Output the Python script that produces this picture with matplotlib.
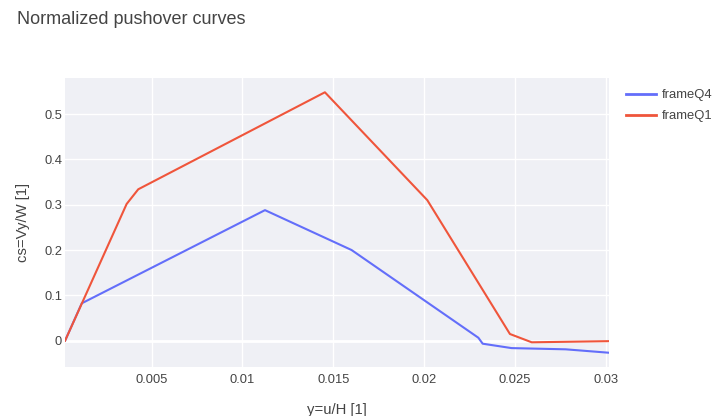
import matplotlib
matplotlib.use("Agg")
import matplotlib.pyplot as plt

# Normalized drift (y = u/H) and base-shear coefficient (cs = Vy/W)
q4_drift = [0.00023, 0.00115, 0.01124, 0.01601, 0.02299, 0.02323, 0.02482, 0.0278, 0.03017]
q4_cs = [0.0, 0.0825, 0.288, 0.200, 0.0066, -0.0066, -0.0163, -0.019, -0.0265]

q1_drift = [0.00023, 0.00362, 0.00426, 0.01454, 0.02018, 0.02473, 0.02593, 0.03017]
q1_cs = [0.0, 0.3016, 0.334, 0.548, 0.310, 0.0148, -0.0035, -0.0010]

series_names = ["frameQ4", "frameQ1"]
x_ticks = [0.005, 0.01, 0.015, 0.02, 0.025, 0.03]
x_tick_labels = ["0.005", "0.01", "0.015", "0.02", "0.025", "0.03"]
y_ticks = [0, 0.1, 0.2, 0.3, 0.4, 0.5]
y_tick_labels = ["0", "0.1", "0.2", "0.3", "0.4", "0.5"]

plt.rcParams["font.family"] = ["Liberation Sans", "DejaVu Sans"]
TEXT = "#444444"

fig = plt.figure(figsize=(7.14, 4.16), dpi=100)
ax = fig.add_axes([65 / 714, 1 - 367 / 416, (608.7 - 65) / 714, (367 - 78) / 416])
ax.set_facecolor("#eff0f5")

for s in ax.spines.values():
    s.set_visible(False)

ax.plot(q4_drift, q4_cs, color="#636efa", lw=1.5, label=series_names[0], zorder=3)
ax.plot(q1_drift, q1_cs, color="#ef553b", lw=1.5, label=series_names[1], zorder=4)

ax.set_xlim(0.000226, 0.03017)
ax.set_ylim(-0.058, 0.5795)

ax.set_xticks(x_ticks)
ax.set_xticklabels(x_tick_labels)
ax.set_yticks(y_ticks)
ax.set_yticklabels(y_tick_labels)
ax.tick_params(axis="both", length=0, labelsize=9.3, colors=TEXT)
ax.tick_params(axis="x", pad=5)
ax.tick_params(axis="y", pad=2)
ax.grid(True, color="white", lw=1.0)
ax.set_axisbelow(True)
ax.axhline(0, color="white", lw=2.0, zorder=1.5)

ax.set_xlabel("y=u/H [1]", fontsize=10.7, color=TEXT, labelpad=12)
ax.set_ylabel("cs=Vy/W [1]", fontsize=10.7, color=TEXT, labelpad=10)

fig.text(17 / 714, 1 - 20 / 416, "Normalized pushover curves", fontsize=13,
         color=TEXT, va="center", ha="left")

leg = fig.legend(loc="upper left", bbox_to_anchor=(626 / 714, 1 - 89 / 416),
                 bbox_transform=fig.transFigure, frameon=False,
                 fontsize=9.4, handlelength=2.3, handletextpad=0.45,
                 labelspacing=0.68, borderaxespad=0.0, borderpad=0.0)
for t in leg.get_texts():
    t.set_color(TEXT)
for ln in leg.get_lines():
    ln.set_linewidth(2.0)

fig.savefig("out.png", dpi=100)
